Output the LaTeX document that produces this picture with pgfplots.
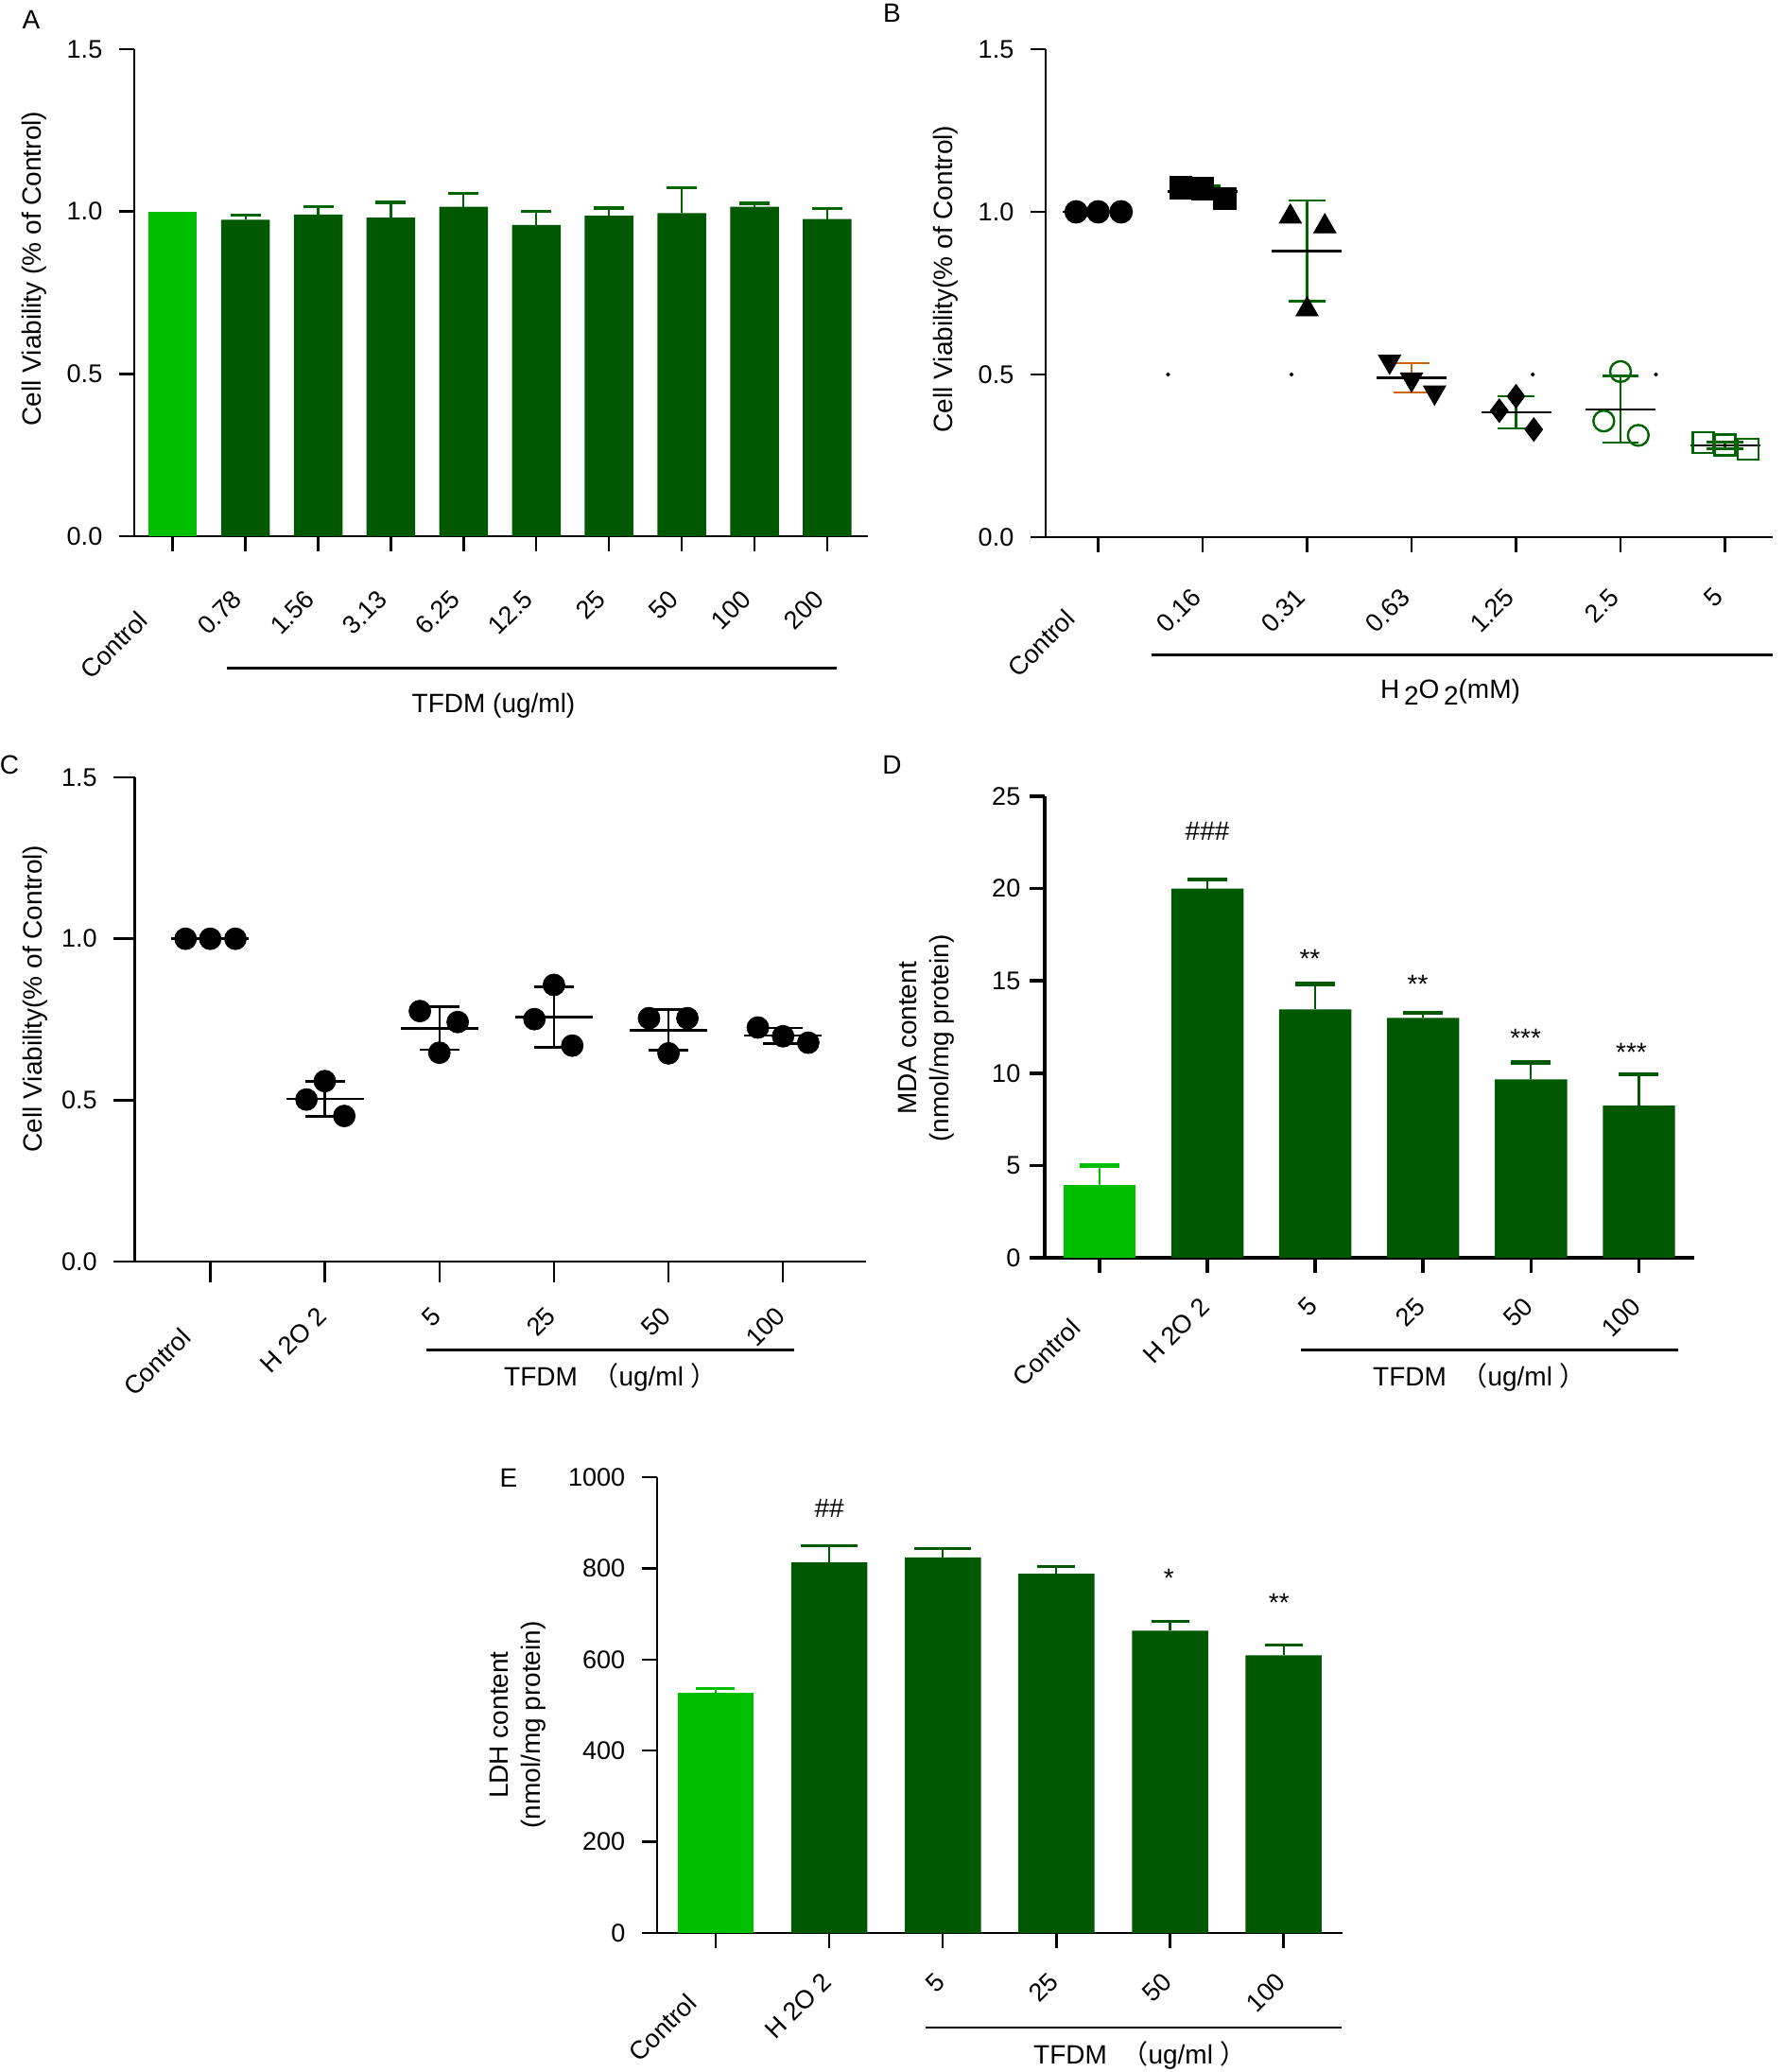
\documentclass[border=0pt]{standalone}
\usepackage{fontspec}
\setmainfont{Liberation Sans}
\newfontfamily\cjk{Noto Sans CJK SC}
\usepackage{pgfplots}
\pgfplotsset{compat=1.18}
\definecolor{lg}{RGB}{0,190,0}
\definecolor{dg}{RGB}{0,88,0}
\definecolor{eg}{RGB}{0,100,0}
\definecolor{og}{RGB}{204,102,0}
\newcommand{\tfdm}{TFDM\ \ {\cjk （}ug/ml\ {\cjk ）}}
\newcommand{\ctl}{Control\rule{16pt}{0pt}}
\pgfplotsset{
  gp/.style={
    scale only axis, anchor=south west, clip=false,
    axis x line=bottom, axis y line=left,
    axis line style={-, line width=1.2pt, black},
    tick align=outside, major tick length=8pt,
    tick style={line width=1.2pt, black},
    /pgf/number format/assume math mode=true,
    /pgf/number format/1000 sep={},
    tick label style={font=\fontsize{13.5}{16}\selectfont},
    ymin=0,
  },
  xl/.style 2 args={xticklabel style={xshift=#1, yshift=#2, rotate=45, anchor=east}},
  onedec/.style={yticklabel style={/pgf/number format/.cd, fixed, fixed zerofill, precision=1}},
  gpbar/.style={ybar, bar width=0.67, bar shift=0pt, draw=none},
}
\begin{document}
\fontsize{14}{17}\selectfont
\begin{tikzpicture}
\useasboundingbox (0,0) rectangle (943.5pt,-1095.5pt);

% ---------------- A ----------------
\begin{axis}[gp, xl={-1pt}{-19.5pt}, yticklabel style={xshift=-4pt},
  at={(71pt,-283.5pt)}, width=388pt, height=257.5pt,
  xmin=-0.529, xmax=9.56, ymax=1.5, ytick={0,0.5,1,1.5}, onedec,
  xtick={0,...,9}, xticklabels={\ctl,0.78,1.56,3.13,6.25,12.5,25,50,100,200}]
\addplot[gpbar, fill=lg] coordinates {(0,1.0)};
\addplot[gpbar, fill=dg, error bars/.cd, y dir=plus, y explicit,
  error bar style={draw=eg, line width=1.1pt},
  error mark options={draw=eg, rotate=90, mark size=8pt, line width=1.6pt}]
  coordinates {(1,0.975) +- (0,0.013) (2,0.991) +- (0,0.024) (3,0.981) +- (0,0.047)
  (4,1.015) +- (0,0.041) (5,0.959) +- (0,0.041) (6,0.987) +- (0,0.024)
  (7,0.995) +- (0,0.078) (8,1.015) +- (0,0.010) (9,0.977) +- (0,0.032)};
\end{axis}

% ---------------- B ----------------
\begin{axis}[gp, xl={0pt}{-18pt}, yticklabel style={xshift=-4pt},
  at={(553pt,-284pt)}, width=384.5pt, height=258pt,
  xmin=-0.502, xmax=6.457, ymax=1.5, ytick={0,0.5,1,1.5}, onedec,
  xtick={0,...,6}, xticklabels={\ctl,0.16,0.31,0.63,1.25,2.5,5}]
\addplot[only marks, mark=-, mark size=18.5pt, mark options={line width=1.3pt}, black]
  coordinates {(0,1.0) (1,1.062) (2,0.88) (3,0.49) (4,0.384) (5,0.393) (6,0.282)};
\addplot[only marks, mark=*, mark size=6pt, black] coordinates {(-0.21,1.0) (0,1.0) (0.22,1.0)};
\addplot[only marks, mark=square*, mark size=5.9pt, black] coordinates {(0.79,1.074) (1,1.071) (1.21,1.041)};
\addplot[only marks, mark=triangle*, mark size=6.8pt, black] coordinates {(1.84,0.985) (2.17,0.955) (2,0.70)};
\addplot[only marks, mark=triangle*, mark size=6.8pt, mark options={rotate=180}, black] coordinates {(2.79,0.54) (3,0.485) (3.22,0.445)};
\addplot[only marks, mark=diamond*, mark size=6.25pt, black] coordinates {(3.84,0.389) (4,0.433) (4.17,0.331)};
\addplot[only marks, mark=o, mark size=5.5pt, mark options={line width=1.2pt}, eg] coordinates {(4.84,0.357) (5,0.509) (5.17,0.313)};
\addplot[only marks, mark=square, mark size=5.5pt, mark options={line width=1.2pt}, eg] coordinates {(5.79,0.291) (6,0.284) (6.22,0.270)};
\addplot[only marks, mark=*, mark size=0.9pt, black] coordinates {(0.67,0.5) (1.85,0.5) (4.16,0.5) (5.34,0.5)};
\addplot[draw=none, mark=none, error bars/.cd, y dir=both, y explicit,
  error bar style={draw=eg, line width=1.1pt},
  error mark options={draw=eg, rotate=90, mark size=9.7pt, line width=1.2pt}]
  coordinates {(1,1.062) +- (0,0.018) (2,0.88) +- (0,0.155) (4,0.384) +- (0,0.05) (5,0.393) +- (0,0.103) (6,0.282) +- (0,0.01)};
\addplot[draw=none, mark=none, error bars/.cd, y dir=both, y explicit,
  error bar style={draw=og, line width=1.1pt},
  error mark options={draw=og, rotate=90, mark size=9.7pt, line width=1.2pt}]
  coordinates {(3,0.49) +- (0,0.045)};
\end{axis}

% ---------------- C ----------------
\begin{axis}[gp, xl={2pt}{-12pt}, yticklabel style={xshift=-4pt},
  at={(71.25pt,-667pt)}, width=386.5pt, height=256pt,
  major tick length=11pt,
  xmin=-0.659, xmax=5.72, ymax=1.5, ytick={0,0.5,1,1.5}, onedec,
  xtick={0,...,5}, xticklabels={\ctl,H 2O 2,5,25,50,100}]
\addplot[only marks, mark=-, mark size=20.5pt, mark options={line width=1.3pt}, black]
  coordinates {(0,1.0) (1,0.504) (2,0.723) (3,0.758) (4,0.717) (5,0.700)};
\addplot[only marks, mark=*, mark size=5.75pt, black] coordinates {
  (-0.215,1) (0,1) (0.22,1)
  (0.84,0.502) (1,0.559) (1.17,0.451)
  (1.83,0.776) (2.16,0.742) (2,0.647)
  (2.83,0.751) (3,0.857) (3.16,0.669)
  (3.83,0.754) (4.165,0.754) (4,0.645)
  (4.78,0.725) (5,0.698) (5.22,0.678)};
\addplot[draw=none, mark=none, error bars/.cd, y dir=both, y explicit,
  error bar style={draw=black, line width=1.2pt},
  error mark options={draw=black, rotate=90, mark size=10.5pt, line width=1.3pt}]
  coordinates {(1,0.504) +- (0,0.054) (2,0.723) +- (0,0.067) (3,0.758) +- (0,0.094) (4,0.717) +- (0,0.063) (5,0.700) +- (0,0.024)};
\end{axis}

% ---------------- D ----------------
\begin{axis}[gp, xl={2pt}{-12pt},
  at={(552.5pt,-665pt)}, width=343.5pt, height=244pt,
  axis line style={-, line width=1.8pt, black}, tick style={line width=1.8pt, black},
  xmin=-0.508, xmax=5.513, ymax=25, ytick={0,5,10,15,20,25},
  xtick={0,...,5}, xticklabels={\ctl,H 2O 2,5,25,50,100}]
\addplot[gpbar, fill=lg, error bars/.cd, y dir=plus, y explicit,
  error bar style={draw=lg, line width=1.1pt},
  error mark options={draw=lg, rotate=90, mark size=10.5pt, line width=2.2pt}]
  coordinates {(0,3.96) +- (0,1.04)};
\addplot[gpbar, fill=dg, error bars/.cd, y dir=plus, y explicit,
  error bar style={draw=dg, line width=1.1pt},
  error mark options={draw=dg, rotate=90, mark size=10.5pt, line width=2.2pt}]
  coordinates {(1,20.0) +- (0,0.5) (2,13.46) +- (0,1.37) (3,13.0) +- (0,0.26) (4,9.67) +- (0,0.9) (5,8.24) +- (0,1.7)};
\node[anchor=base] at (axis cs:1,22.6) {\#\#\#};
\node[anchor=base] at (axis cs:1.95,15.7) {**};
\node[anchor=base] at (axis cs:2.95,14.3) {**};
\node[anchor=base] at (axis cs:3.95,11.4) {***};
\node[anchor=base] at (axis cs:4.93,10.65) {***};
\end{axis}

% ---------------- E ----------------
\begin{axis}[gp, xl={2pt}{-12pt}, yticklabel style={xshift=-4pt},
  at={(347.5pt,-1022pt)}, width=362.5pt, height=241pt,
  xmin=-0.516, xmax=5.519, ymax=1000, ytick={0,200,400,600,800,1000},
  xtick={0,...,5}, xticklabels={\ctl,H 2O 2,5,25,50,100}]
\addplot[gpbar, fill=lg, error bars/.cd, y dir=plus, y explicit,
  error bar style={draw=lg, line width=1.1pt},
  error mark options={draw=lg, rotate=90, mark size=10.25pt, line width=1.6pt}]
  coordinates {(0,526) +- (0,11)};
\addplot[gpbar, fill=dg, error bars/.cd, y dir=plus, y explicit,
  error bar style={draw=dg, line width=1.1pt},
  error mark options={draw=dg, rotate=90, mark size=15pt, line width=1.6pt}]
  coordinates {(1,813) +- (0,37) (2,824) +- (0,19)};
\addplot[gpbar, fill=dg, error bars/.cd, y dir=plus, y explicit,
  error bar style={draw=dg, line width=1.1pt},
  error mark options={draw=dg, rotate=90, mark size=10pt, line width=1.6pt}]
  coordinates {(3,788) +- (0,16) (4,663) +- (0,20) (5,609) +- (0,22)};
\node[anchor=base] at (axis cs:1,912) {\#\#};
\node[anchor=base] at (axis cs:3.99,759) {*};
\node[anchor=base] at (axis cs:4.96,704) {**};
\end{axis}

% ---------- labels, letters, group lines ----------
\node[rotate=90] at (18pt,-142pt) {Cell Viability (\% of Control)};
\node[rotate=90] at (500pt,-147.5pt) {Cell Viability(\% of Control)};
\node[rotate=90] at (18.5pt,-528pt) {Cell Viability(\% of Control)};
\node[rotate=90, align=center] at (490pt,-549pt) {MDA content\\(nmol/mg protein)};
\node[rotate=90, align=center] at (274pt,-912pt) {LDH content\\(nmol/mg protein)};

\node at (16.5pt,-10.5pt) {A};
\node at (471.75pt,-7pt) {B};
\node at (5pt,-404.5pt) {C};
\node at (471.7pt,-404.5pt) {D};
\node at (269pt,-781.5pt) {E};

\draw[line width=1.3pt] (120pt,-353.35pt) -- (442.25pt,-353.35pt);
\draw[line width=1.3pt] (609pt,-346.35pt) -- (937.5pt,-346.35pt);
\draw[line width=1.3pt] (225.35pt,-713.65pt) -- (420.15pt,-713.65pt);
\draw[line width=1.3pt] (687.85pt,-713.65pt) -- (887.35pt,-713.65pt);
\draw[line width=1.3pt] (489.5pt,-1072pt) -- (709.5pt,-1072pt);

\node at (261pt,-373.35pt) {TFDM (ug/ml)};
\node at (767pt,-365.85pt) {H\,\raisebox{-0.45ex}{2}O\,\raisebox{-0.45ex}{2}(mM)};
\node at (323pt,-728.35pt) {\tfdm};
\node at (782.5pt,-728.35pt) {\tfdm};
\node at (603pt,-1086.75pt) {\tfdm};
\end{tikzpicture}
\end{document}
